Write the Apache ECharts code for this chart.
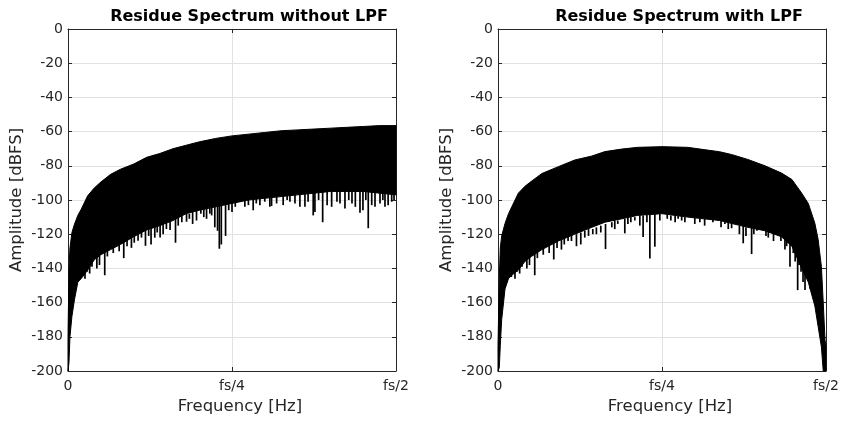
<!DOCTYPE html>
<html><head><meta charset="utf-8">
<script src="https://cdn.jsdelivr.net/npm/echarts@6/dist/echarts.min.js"></script>
<style>html,body{margin:0;padding:0;background:#fff}#c{width:845px;height:421px}</style>
</head><body><div id="c"></div>
<script>
// ---- tick labels ----
const xTickValues = [0, 0.25, 0.5];
const xTickLabels = ['0', 'fs/4', 'fs/2'];
const titles = ['Residue Spectrum without LPF', 'Residue Spectrum with LPF'];

// ---- left plot: band envelope (fraction of fs, dBFS) ----
const freqL  = [0, 0.0015, 0.003, 0.006, 0.01, 0.015, 0.02, 0.03, 0.04, 0.05, 0.065, 0.08, 0.1, 0.12, 0.14, 0.16, 0.18, 0.2, 0.225, 0.25, 0.275, 0.3, 0.325, 0.35, 0.375, 0.4, 0.425, 0.45, 0.475, 0.5];
const upperL = [-180, -140, -128, -119, -114, -109, -105.5, -97.5, -93, -89.5, -85, -82, -79, -75, -72.8, -70, -68, -66, -64, -62.5, -61.5, -60.5, -59.5, -59, -58.5, -58, -57.5, -57, -56.5, -56.5];
const lowerL = [-200, -195, -180, -168, -158, -148, -146, -141, -135, -132, -129, -126, -121.5, -117.5, -115, -112, -108, -106, -104, -102, -100, -99, -98, -97, -96, -95, -95, -95, -96, -97];
// left plot: downward spikes
const spikeFreqL = [0.0204, 0.0259, 0.029, 0.0366, 0.056, 0.0636, 0.0738, 0.085, 0.0967, 0.1068, 0.1181, 0.1266, 0.1323, 0.1404, 0.145, 0.1556, 0.1639, 0.1735, 0.1807, 0.1959, 0.2025, 0.2112, 0.2162, 0.2238, 0.2307, 0.2337, 0.2402, 0.25, 0.262, 0.2696, 0.2823, 0.2925, 0.3077, 0.3103, 0.328, 0.3383, 0.3535, 0.3612, 0.3738, 0.3764, 0.3882, 0.4019, 0.4146, 0.4222, 0.4329, 0.4451, 0.4496, 0.4577, 0.468, 0.4756, 0.4832, 0.4934,
  0.033, 0.044, 0.048, 0.06, 0.069, 0.078, 0.09, 0.101, 0.112, 0.123, 0.136, 0.15, 0.168, 0.185, 0.19, 0.207, 0.219, 0.228, 0.245, 0.255, 0.275, 0.287, 0.3, 0.318, 0.334, 0.346, 0.366, 0.382, 0.395, 0.41, 0.428, 0.438, 0.454, 0.463, 0.48, 0.488, 0.497];
const spikeTopL  = [-140, -139, -137, -133, -130, -128, -126, -124, -120, -119, -117, -116, -115, -114, -114, -112, -111, -109, -108, -106, -105, -105, -104, -103, -103, -103, -102, -101, -99, -99, -98, -98, -97, -97, -96, -96, -95, -95, -94, -94, -94, -93, -93, -93, -93, -93, -93, -93, -94, -94, -95, -95,
  -136, -132, -131, -128, -127, -125, -122, -120, -118, -116, -114, -112, -110, -108, -107, -105, -104, -103, -102, -101, -99, -98, -98, -97, -96, -96, -95, -94, -94, -93, -93, -93, -93, -93, -94, -95, -95];
const spikeBotL  = [-145, -146, -142, -139, -144, -128, -125, -134, -128, -123.8, -126.8, -126, -122, -122, -120, -117.6, -125, -113, -112.7, -112, -108, -111, -108, -116, -128.5, -126, -121, -107, -101, -104, -106, -103, -104, -103.5, -103, -101, -104, -104, -109, -107, -113, -104, -102, -105, -102, -107.5, -106, -116.5, -104, -102, -104, -101,
  -143, -140, -138, -133, -131, -130, -127, -125, -122, -121, -119, -117, -115, -111, -114, -110, -109, -118, -106, -104, -103, -102, -101, -102, -100, -102, -101, -100, -103, -101, -100, -104, -100, -103, -100, -103, -100];

// ---- right plot: band envelope ----
const freqR  = [0, 0.002, 0.0035, 0.0056, 0.0107, 0.016, 0.021, 0.031, 0.041, 0.051, 0.067, 0.092, 0.117, 0.143, 0.163, 0.189, 0.213, 0.25, 0.289, 0.338, 0.356, 0.381, 0.407, 0.432, 0.448, 0.463, 0.473, 0.483, 0.488, 0.493, 0.4958, 0.4985, 0.5];
const upperR = [-185, -145, -128, -121, -113.7, -108, -104, -96, -92, -89, -84.5, -80.5, -76.6, -74.3, -71.7, -70.2, -69.2, -68.8, -69.2, -71.8, -73.4, -76.3, -80, -84.2, -88, -96, -102, -113.6, -123, -139, -160, -182, -185];
const lowerR = [-200, -198, -185, -170, -152, -146, -144, -141, -136, -133, -129, -124, -120, -116, -113, -111, -109, -108, -110, -112, -113.7, -116, -118, -121.5, -127, -140, -148, -162, -174, -186, -200, -200, -200];
// right plot: downward spikes
const spikeFreqR = [0.0204, 0.0259, 0.029, 0.0366, 0.056, 0.0636, 0.0738, 0.085, 0.0967, 0.1068, 0.1196, 0.1262, 0.1323, 0.1445, 0.1567, 0.1639, 0.1735, 0.1826, 0.1933, 0.2025, 0.2086, 0.2162, 0.2212, 0.2315, 0.2391, 0.2467, 0.2543, 0.2635, 0.2746, 0.2849, 0.2951, 0.3077, 0.3204, 0.3276, 0.3357, 0.3459, 0.3561, 0.3642, 0.3738, 0.3866, 0.3947, 0.4019, 0.4085, 0.4172, 0.4248, 0.4313, 0.4374, 0.4451, 0.4501, 0.4568, 0.4619, 0.468, 0.473, 0.4806, 0.4855,
  0.033, 0.044, 0.048, 0.06, 0.069, 0.078, 0.09, 0.101, 0.112, 0.138, 0.15, 0.178, 0.198, 0.227, 0.258, 0.27, 0.28, 0.3, 0.315, 0.34, 0.351, 0.368, 0.378, 0.39, 0.412, 0.42, 0.44, 0.453, 0.459, 0.465, 0.476, 0.478];
const spikeTopR  = [-141, -140, -138, -134, -131, -128, -127, -124, -122, -121, -120, -119, -118, -117, -115, -114, -113, -112, -111, -110, -110, -109, -109, -108, -108, -108, -108, -109, -109, -110, -110, -111, -111, -111, -112, -112, -113, -114, -114, -116, -117, -117, -118, -118, -119, -120, -121, -123, -125, -128, -131, -136, -140, -148, -155,
  -137, -133, -132, -129, -128, -126, -123, -121, -120, -117, -116, -112, -110, -108, -108, -109, -109, -110, -111, -112, -113, -115, -116, -116, -118, -119, -122, -128, -130, -136, -145, -145];
const spikeBotR  = [-145, -146, -142, -139, -144, -128, -126, -134.8, -129, -124, -127, -126, -122, -120, -119, -128.7, -116, -114, -119.5, -113, -112, -115, -121.6, -134.2, -127.3, -112, -108, -112, -111, -113, -110, -113, -110, -113, -111, -114, -116.5, -114, -125.3, -131.6, -118, -117.5, -121, -115.6, -119.5, -124, -129, -139, -131, -152.7, -142, -152.7, -143, -147, -158,
  -143, -140, -138, -134, -132, -131, -128, -126, -124, -121, -120, -117, -114, -113, -111, -113, -112, -114, -115, -116, -117, -120, -121, -120, -122, -124, -127, -136, -138, -148, -152, -150];

const FONT = 'DejaVu Sans';
const AX = '#262626';

// One polygon per band: upper edge left->right, then lower edge right->left
function bandSeries(xi, yi, f, up, lo) {
  return {
    type: 'custom', xAxisIndex: xi, yAxisIndex: yi, silent: true, z: 3,
    data: [[f[0], up[0]]],
    renderItem: (params, api) => {
      const pts = [];
      for (let i = 0; i < f.length; i++) pts.push(api.coord([f[i], up[i]]));
      for (let i = f.length - 1; i >= 0; i--) pts.push(api.coord([f[i], lo[i]]));
      return { type: 'polygon', shape: { points: pts }, style: { fill: '#000', stroke: '#000', lineWidth: 1 } };
    }
  };
}
function spikeSeries(xi, yi, f, top, bot) {
  return {
    type: 'custom', xAxisIndex: xi, yAxisIndex: yi, silent: true, z: 3,
    data: f.map((v, i) => [v, top[i], bot[i]]),
    encode: { x: 0, y: [1, 2] },
    renderItem: (params, api) => {
      const a = api.coord([api.value(0), api.value(1)]);
      const b = api.coord([api.value(0), api.value(2)]);
      return { type: 'line', shape: { x1: a[0], y1: a[1], x2: b[0], y2: b[1] }, style: { stroke: '#000', lineWidth: 1.7 } };
    }
  };
}

function xAxis(grid, pos, main) {
  return {
    type: 'value', gridIndex: grid, position: pos, min: 0, max: 0.5, interval: 0.25,
    axisLine: { show: true, onZero: false, lineStyle: { color: AX, width: 1 } },
    axisTick: { show: true, inside: true, length: 4, lineStyle: { color: AX } },
    axisLabel: { show: main, margin: 8, color: AX, fontSize: 14, fontFamily: FONT,
      formatter: v => { const i = xTickValues.findIndex(t => Math.abs(t - v) < 1e-9); return i >= 0 ? xTickLabels[i] : ''; } },
    splitLine: { show: main, lineStyle: { color: '#e2e2e2', width: 1 } },
    name: main ? 'Frequency [Hz]' : '', nameLocation: 'middle', nameGap: 27,
    nameTextStyle: { color: AX, fontSize: 16.5, fontFamily: FONT, padding: [0, 0, 0, 16] }
  };
}
function yAxis(grid, pos, main) {
  return {
    type: 'value', gridIndex: grid, position: pos, min: -200, max: 0, interval: 20,
    axisLine: { show: true, onZero: false, lineStyle: { color: AX, width: 1 } },
    axisTick: { show: true, inside: true, length: 4, lineStyle: { color: AX } },
    axisLabel: { show: main, margin: 5, color: AX, fontSize: 14, fontFamily: FONT },
    splitLine: { show: main, lineStyle: { color: '#e2e2e2', width: 1 } },
    name: main ? 'Amplitude [dBFS]' : '', nameLocation: 'middle', nameGap: 43,
    nameTextStyle: { color: AX, fontSize: 16.5, fontFamily: FONT }
  };
}

const chart = echarts.init(document.getElementById('c'), null, { renderer: 'canvas' });
chart.setOption({
  animation: false,
  backgroundColor: '#fff',
  title: [
    { text: titles[0], left: 249, top: 9, textAlign: 'center', padding: 0, textStyle: { fontFamily: FONT, fontWeight: 'bold', fontSize: 16, color: '#000' } },
    { text: titles[1], left: 679, top: 9, textAlign: 'center', padding: 0, textStyle: { fontFamily: FONT, fontWeight: 'bold', fontSize: 16, color: '#000' } }
  ],
  grid: [
    { left: 68, top: 29, width: 328, height: 342 },
    { left: 498, top: 29, width: 328, height: 342 }
  ],
  xAxis: [xAxis(0, 'bottom', true), xAxis(0, 'top', false), xAxis(1, 'bottom', true), xAxis(1, 'top', false)],
  yAxis: [yAxis(0, 'left', true), yAxis(0, 'right', false), yAxis(1, 'left', true), yAxis(1, 'right', false)],
  series: [
    bandSeries(0, 0, freqL, upperL, lowerL),
    spikeSeries(0, 0, spikeFreqL, spikeTopL, spikeBotL),
    bandSeries(2, 2, freqR, upperR, lowerR),
    spikeSeries(2, 2, spikeFreqR, spikeTopR, spikeBotR)
  ]
});
</script>
</body></html>
